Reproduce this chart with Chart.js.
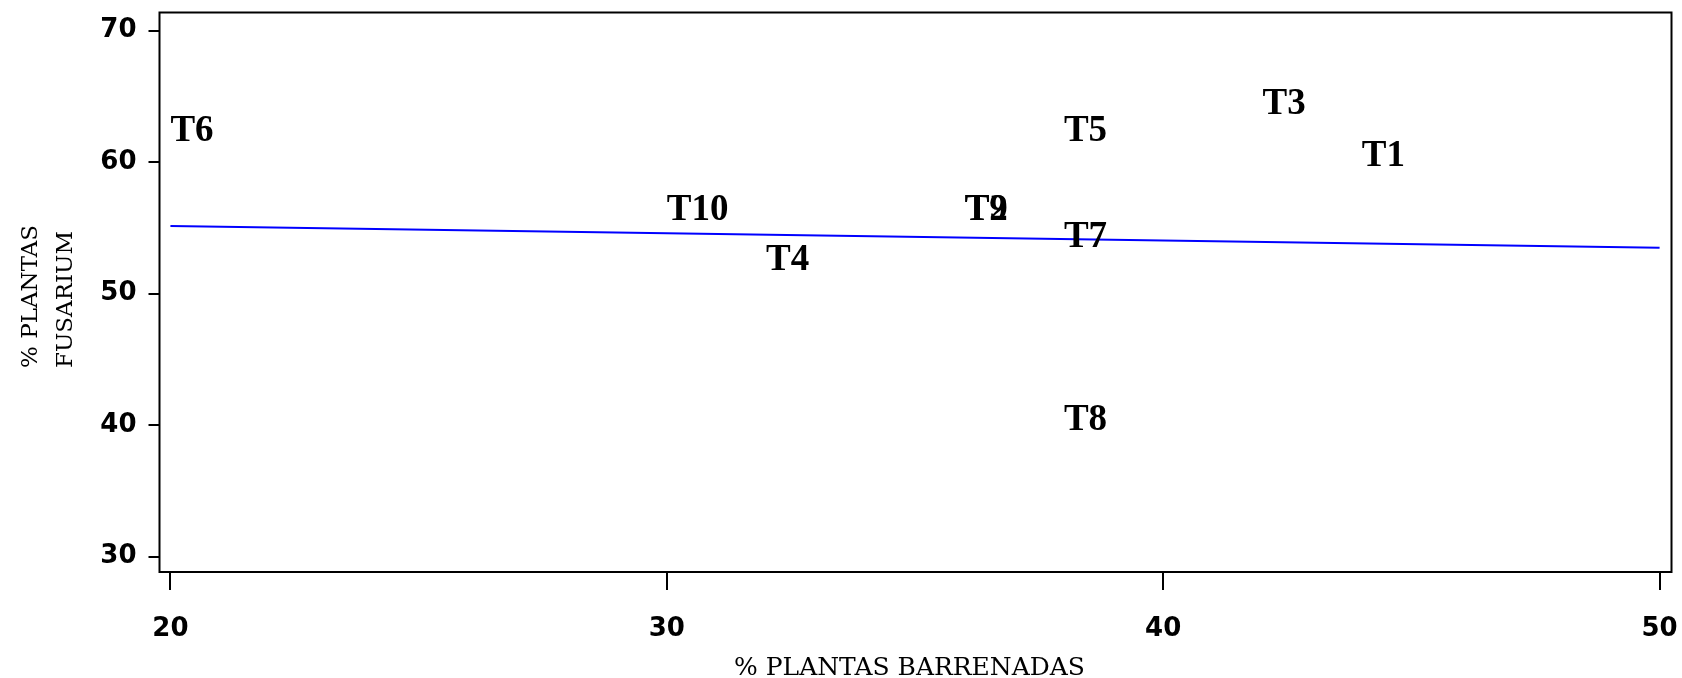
<!DOCTYPE html>
<html>
<head>
<meta charset="utf-8">
<script src="https://cdn.jsdelivr.net/npm/chart.js@4.4.0/dist/chart.umd.min.js"></script>
<style>
  html, body { margin: 0; padding: 0; background: #fff; }
  canvas { display: block; }
</style>
</head>
<body>
<canvas id="c" width="1682" height="678"></canvas>
<script>
// Treatments and their measured percentages
const treatments = ['T1', 'T2', 'T3', 'T4', 'T5', 'T6', 'T7', 'T8', 'T9', 'T10'];
const barrenadas = [44, 36, 42, 32, 38, 20, 38, 38, 36, 30];
const fusarium   = [60.6, 56.55, 64.55, 52.7, 62.5, 62.5, 54.5, 40.6, 56.55, 56.55];

// Fitted straight line (end points)
const fitX = [20, 50];
const fitY = [55.15, 53.48];

// Axis ticks and titles
const xTicks = [20, 30, 40, 50];
const yTicks = [30, 40, 50, 60, 70];
const xTitle = '% PLANTAS BARRENADAS';
const yTitle = ['% PLANTAS', 'FUSARIUM'];

const tickFont = { family: 'DejaVu Sans', size: 26, weight: 'bold' };
const labelFontSize = 37;

// Treatment names written at each point, left edge on the x value
const pointLabels = {
  id: 'pointLabels',
  afterDatasetsDraw(chart) {
    const ctx = chart.ctx;
    const meta = chart.getDatasetMeta(0);
    ctx.save();
    ctx.font = 'bold ' + labelFontSize + 'px "Liberation Serif"';
    ctx.fillStyle = '#000';
    ctx.textAlign = 'left';
    ctx.textBaseline = 'alphabetic';
    const half = labelFontSize * 0.33;
    meta.data.forEach((el, i) => {
      ctx.fillText(treatments[i], el.x, el.y + half);
    });
    ctx.restore();
  }
};

// Box around the plotting area and the two axis titles
const frameAndTitles = {
  id: 'frameAndTitles',
  afterDraw(chart) {
    const ctx = chart.ctx;
    const a = chart.chartArea;
    ctx.save();
    ctx.strokeStyle = '#000';
    ctx.lineWidth = 2;
    ctx.strokeRect(a.left, a.top, a.right - a.left, a.bottom - a.top);

    ctx.fillStyle = '#000';
    ctx.textBaseline = 'alphabetic';
    ctx.font = '25px "DejaVu Serif"';
    ctx.textAlign = 'center';
    ctx.fillText(xTitle, (a.left + a.right) / 2 - 6, a.bottom + 103);

    ctx.font = '23px "DejaVu Serif"';
    ctx.translate(0, 368);
    ctx.rotate(-Math.PI / 2);
    ctx.textAlign = 'left';
    ctx.fillText(yTitle[0], 0, 37);
    ctx.fillText(yTitle[1], 0, 72);
    ctx.restore();
  }
};

new Chart(document.getElementById('c'), {
  data: {
    datasets: [
      {
        type: 'scatter',
        data: barrenadas.map((x, i) => ({ x: x, y: fusarium[i] })),
        pointRadius: 0,
        pointHoverRadius: 0
      },
      {
        type: 'line',
        data: fitX.map((x, i) => ({ x: x, y: fitY[i] })),
        borderColor: '#0000ff',
        borderWidth: 2,
        pointRadius: 0,
        fill: false
      }
    ]
  },
  options: {
    responsive: false,
    devicePixelRatio: 1,
    animation: false,
    events: [],
    layout: { padding: { top: 12.5, right: 10.5, left: 0, bottom: 0 } },
    plugins: { legend: { display: false }, tooltip: { enabled: false } },
    scales: {
      x: {
        type: 'linear',
        min: 19.78,
        max: 50.24,
        afterBuildTicks: s => { s.ticks = xTicks.map(v => ({ value: v })); },
        afterFit: s => { s.height = 106; s.paddingLeft = 0; s.paddingRight = 0; },
        grid: { display: true, drawOnChartArea: false, drawTicks: true, tickLength: 18, color: '#000', lineWidth: 2 },
        border: { display: false },
        ticks: { color: '#000', font: tickFont, padding: 24, maxRotation: 0, autoSkip: false }
      },
      y: {
        type: 'linear',
        min: 28.84,
        max: 71.37,
        afterBuildTicks: s => { s.ticks = yTicks.map(v => ({ value: v })); },
        afterFit: s => { s.width = 159.5; s.paddingTop = 0; s.paddingBottom = 0; },
        grid: { display: true, drawOnChartArea: false, drawTicks: true, tickLength: 11, color: '#000', lineWidth: 2 },
        border: { display: false },
        ticks: { color: '#000', font: tickFont, padding: 12 }
      }
    }
  },
  plugins: [pointLabels, frameAndTitles]
});
</script>
</body>
</html>
